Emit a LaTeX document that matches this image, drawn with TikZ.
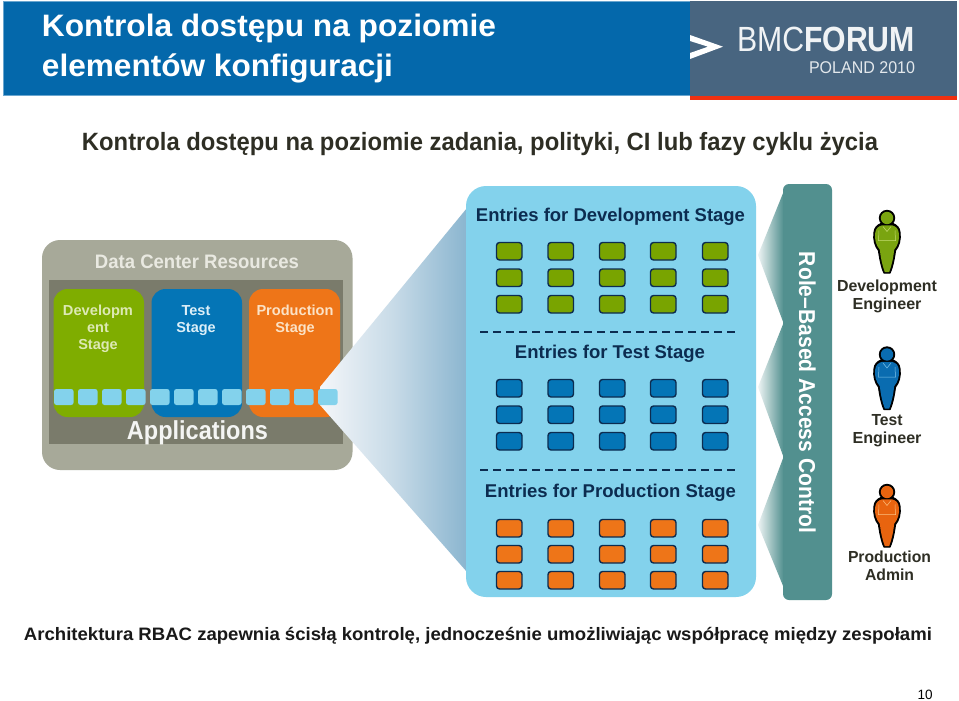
\documentclass[tikz,border=0pt]{standalone}
\usepackage{fontspec}
\usepackage{graphicx}
\setmainfont{Liberation Sans}
\newcommand\fitw[2]{\resizebox{#1pt}{\height}{#2}}
\newcommand\fs[1]{\fontsize{#1pt}{#1pt}\selectfont}
\definecolor{hdr}{HTML}{0468AB}
\definecolor{hdredge}{HTML}{6AA6CF}
\definecolor{slate}{HTML}{486580}
\definecolor{redbar}{HTML}{F03010}
\definecolor{ink}{HTML}{2E2E24}
\definecolor{grayout}{HTML}{A7A999}
\definecolor{grayin}{HTML}{7A7B6B}
\definecolor{sgreen}{HTML}{7FAD00}
\definecolor{sblue}{HTML}{0475B6}
\definecolor{sorange}{HTML}{EE7518}
\definecolor{sky}{HTML}{83D2EC}
\definecolor{navy}{HTML}{0C2C50}
\definecolor{teal}{HTML}{52908F}
\definecolor{wedgeL}{HTML}{F4F6F9}
\definecolor{wedgeR}{HTML}{8AB5CF}
\definecolor{lgreen}{HTML}{DDE9B4}
\definecolor{lblue}{HTML}{DCEFF8}
\definecolor{lorange}{HTML}{FBE2C6}
\definecolor{lgray}{HTML}{E9E9E1}
\definecolor{pgreen}{HTML}{7AA410}
\definecolor{pblue}{HTML}{0A6CB0}
\definecolor{porange}{HTML}{E8640F}
\definecolor{lineg}{HTML}{C5DC70}
\definecolor{lineb}{HTML}{7FC4EA}
\definecolor{lineo}{HTML}{FBC080}
\tikzset{
  lbl/.style={anchor=base,inner sep=0pt,outer sep=0pt},
  stagebox/.style={rounded corners=14pt,draw=none},
  entry/.style={rounded corners=3pt,draw=navy,line width=1.4pt},
  app/.style={fill=sky,rounded corners=2.5pt,draw=none},
  sep/.style={draw=navy,line width=2pt,dash pattern=on 8pt off 5pt},
  hd/.style={lbl,font=\bfseries\fs{31},text=white},
  stg/.style={lbl,font=\bfseries\fs{14.5}},
  ent/.style={lbl,font=\bfseries\fs{18.5},text=navy},
  role/.style={lbl,font=\bfseries\fs{16},text=ink}
}
% person: #1 x centre, #2 y top, #3 fill, #4 line colour
\newcommand\person[4]{%
  \begin{scope}[shift={(#1,#2)}]
    \fill[black] (0,8.5) circle (8.2);
    \filldraw[black,line width=1.2pt,line join=round] (-6,14) .. controls (-10,16) and (-12.5,18) .. (-13,23)
      .. controls (-14,30) and (-12,37) .. (-8.5,41)
      .. controls (-7.5,48) and (-6,57) .. (-3,63.5)
      -- (3,63.5) .. controls (6,57) and (7.5,48) .. (8.5,41)
      .. controls (12,37) and (14,30) .. (13,23)
      .. controls (12.5,18) and (10,16) .. (6,14) -- cycle;
    \fill[#3] (0,8.5) circle (6.2);
    \fill[#3] (-5,15.8) .. controls (-9,17) and (-11.3,19) .. (-11.8,23.5)
      .. controls (-12.8,30) and (-10.8,36) .. (-7.2,40.2)
      .. controls (-6.3,48) and (-4.8,56) .. (-2.2,62.5)
      -- (2.2,62.5) .. controls (4.8,56) and (6.3,48) .. (7.2,40.2)
      .. controls (10.8,36) and (12.8,30) .. (11.8,23.5)
      .. controls (11.3,19) and (9,17) .. (5,15.8) -- cycle;
    \draw[#4,line width=.5pt] (-8,21) -- (-8.5,31) -- (8.5,31) -- (8,21);
    \draw[#4,line width=.5pt] (-4,17) -- (0,22) -- (4,17);
  \end{scope}}
\begin{document}
\begin{tikzpicture}[x=1pt,y=-1pt]
\useasboundingbox (0,0) rectangle (959,701);
\fill[white] (0,0) rectangle (959,701);
% header
\filldraw[fill=hdr,draw=hdredge,line width=.8pt] (3,1) rectangle (690,95.5);
\fill[slate] (690,0.6) rectangle (957,96);
\fill[redbar] (690,96) rectangle (957,100.5);
\node[hd] (t1) at (269,37) {\fitw{454}{Kontrola dostępu na poziomie}};
\node[hd] (t2) at (217.5,76.5) {\fitw{351}{elementów konfiguracji}};
\fill[white] (690,35) -- (723,46.7) -- (690,59) -- (690,53) -- (708,46.7) -- (690,41) -- cycle;
\node[lbl,text=white!92!slate,font=\fs{35}] (logo) at (826,52) {\fitw{178}{\fontspec{Liberation Sans}BMC\bfseries FORUM}};
\node[lbl,text=white!85!slate,font=\fs{17}] (logo2) at (862,74) {\fitw{106}{POLAND 2010}};
% subtitle
\node[lbl,font=\bfseries\fs{25},text=ink] (sub) at (480,150) {\fitw{796}{Kontrola dostępu na poziomie zadania, polityki, CI lub fazy cyklu życia}};
% data center panel
\fill[grayout,rounded corners=18pt] (42,240) rectangle (352.5,470);
\fill[grayin] (49,279.5) rectangle (343,443.5);
\fill[sgreen,stagebox] (53.5,289) rectangle (144,417);
\fill[sblue,stagebox] (151.5,289) rectangle (242,417);
\fill[sorange,stagebox] (249,289) rectangle (340,417);
\node[lbl,font=\bfseries\fs{19.5},text=lgray] (dc) at (197,268.5) {\fitw{204}{Data Center Resources}};
\node[stg,text=lgreen] (d1) at (98,315) {\fitw{70}{Developm}};
\node[stg,text=lgreen] (d2) at (98,332) {ent};
\node[stg,text=lgreen] (d3) at (98,349) {Stage};
\node[stg,text=lblue] (b1) at (196,315) {Test};
\node[stg,text=lblue] (b2) at (196,332) {Stage};
\node[stg,text=lorange] (o1) at (295,315) {\fitw{77}{Production}};
\node[stg,text=lorange] (o2) at (295,332) {Stage};
\node[lbl,font=\bfseries\fs{26},text=white!92!grayin] (apps) at (197.5,439.5) {\fitw{141}{Applications}};
% zoom wedge
\shade[left color=wedgeL,right color=wedgeR,middle color=wedgeL!58!wedgeR,shading angle=90] (320,387) -- (467,208) -- (467,572) -- (320,405) -- cycle;
\foreach \i in {0,...,11}{
  \fill[app] ({54+24*\i},389) rectangle ++(19.6,16);
}
% entries panel
\fill[sky,rounded corners=20pt] (466,186) rectangle (756,597);
\node[ent] (e1) at (610.5,221) {\fitw{269}{Entries for Development Stage}};
\node[ent] (e2) at (610,358) {\fitw{190}{Entries for Test Stage}};
\node[ent] (e3) at (610.5,497) {\fitw{251}{Entries for Production Stage}};
\foreach \x in {496.5,548,599.5,650.5,702.5}{
  \foreach \y in {242.5,269,295.5}{\filldraw[entry,fill=sgreen!95!black] (\x,\y) rectangle ++(25.5,17.5);}
  \foreach \y in {379.5,406,432.5}{\filldraw[entry,fill=sblue] (\x,\y) rectangle ++(25.5,17.5);}
  \foreach \y in {519.5,545.5,571.5}{\filldraw[entry,fill=sorange] (\x,\y) rectangle ++(25.5,17.5);}
}
\coordinate (s1a) at (480,332); \coordinate (s1b) at (735.5,332);
\coordinate (s2a) at (480,470); \coordinate (s2b) at (735.5,470);
\draw[sep] (s1a) -- (s1b);
\draw[sep] (s2a) -- (s2b);
% chevrons and access control bar
\foreach \a/\b/\c in {192/255/323,323/387/457,457/525/587}{
  \shade[left color=white!90!teal,right color=teal,shading angle=90] (783.5,\a) -- (758,\b) -- (783.5,\c) -- cycle;
}
\fill[teal,rounded corners=6pt] (783,184) rectangle (832,600);
\node[lbl,rotate=-90,font=\bfseries\fs{23},text=white] (rbac) at (799,392.5) {\fitw{281}{Role–Based Access Control}};
% people
\person{887}{209.5}{pgreen}{lineg}
\person{887}{346}{pblue}{lineb}
\person{887}{483.5}{porange}{lineo}
\node[role] (r1) at (887,291) {\fitw{100}{Development}};
\node[role] (r2) at (887,309) {\fitw{69}{Engineer}};
\node[role] (r3) at (887,425) {\fitw{31}{Test}};
\node[role] (r4) at (887,443) {\fitw{69}{Engineer}};
\node[role] (r5) at (889.5,562) {\fitw{83}{Production}};
\node[role] (r6) at (889.5,580) {\fitw{49}{Admin}};
% footer
\node[lbl,font=\bfseries\fs{18},text=black!90] (foot) at (478,640) {\fitw{908}{Architektura RBAC zapewnia ścisłą kontrolę, jednocześnie umożliwiając współpracę między zespołami}};
\node[lbl,font=\fs{13.5},text=black] (pg) at (925,699) {10};
\end{tikzpicture}
\end{document}
